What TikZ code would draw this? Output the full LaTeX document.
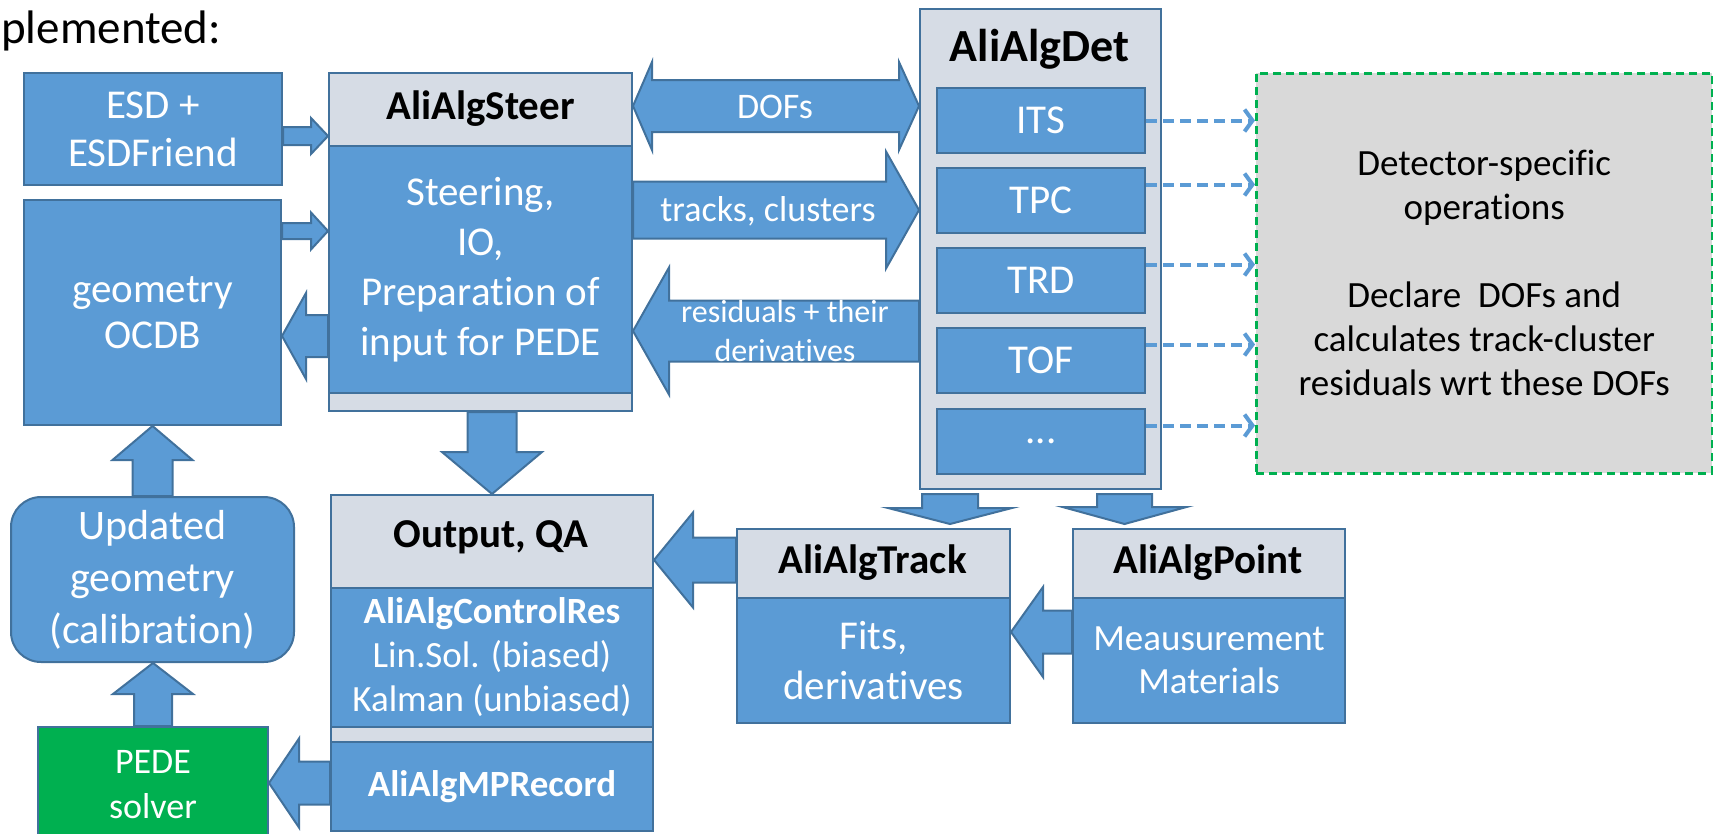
\documentclass[tikz,border=0pt]{standalone}
\usepackage{fontspec}
\setmainfont[Ligatures=NoCommon]{Carlito}
\usetikzlibrary{calc,arrows.meta}
\definecolor{blu}{HTML}{5B9BD5}
\definecolor{bdr}{HTML}{41719C}
\definecolor{hdr}{HTML}{D6DCE5}
\definecolor{gry}{HTML}{D9D9D9}
\definecolor{grn}{HTML}{00B050}
\newcommand\fsz[2]{\fontsize{#1}{#2}\selectfont}
% block arrow: start, tip, shaft half width, head half width, head length
\newcommand\barrow[5]{%
  \coordinate (bh) at ($(#2)!#5!(#1)$);
  \draw[barr] ($(#1)!#3!90:(#2)$) -- ($(bh)!#3!-90:(#1)$) -- ($(bh)!#4!-90:(#1)$) -- (#2)
     -- ($(bh)!#4!90:(#1)$) -- ($(bh)!#3!90:(#1)$) -- ($(#1)!#3!-90:(#2)$) -- cycle;}
\begin{document}
\begin{tikzpicture}[x=1pt,y=-1pt,
  box/.style={draw=bdr,fill=blu,line width=2pt,inner sep=0pt,anchor=north west,text=white,align=center},
  hbox/.style={draw=bdr,fill=hdr,line width=2pt,inner sep=0pt,anchor=north west},
  ttl/.style={text=black,inner sep=0pt},
  sub/.style={box,font=\fsz{41}{48},minimum width=208pt,minimum height=65pt},
  barr/.style={draw=bdr,fill=blu,line width=2pt,line join=miter},
  darr/.style={draw=blu,line width=4pt,dash pattern=on 11pt off 6pt,-{Straight Barb[length=8pt,width=22pt]}},
  lbl/.style={text=white,align=center,inner sep=0pt}
]
\useasboundingbox (0,0) rectangle (1713,833);

\node[anchor=base west,inner sep=0pt,font=\fsz{47}{56}] (head) at (1,43) {plemented:};

% left column
\node[box,font=\fsz{41}{48},minimum width=258pt,minimum height=112pt] (esd) at (23,72) {ESD +\\ESDFriend};
\node[box,font=\fsz{41}{46},minimum width=257pt,minimum height=225pt] (geo) at (23,199) {geometry\\OCDB};
\node[box,font=\fsz{42}{52},minimum width=283pt,minimum height=165pt,rounded corners=30pt] (upd) at (10,496) {Updated\\geometry\\(calibration)};
\node[box,fill=grn,font=\fsz{36}{45},minimum width=230pt,minimum height=116pt] (pede) at (37,726) {PEDE\\solver};

% steer
\node[hbox,minimum width=303pt,minimum height=338pt] (steer) at (328,72) {};
\node[box,font=\fsz{41}{50},minimum width=303pt,minimum height=247pt] (steerB) at (328,145) {Steering,\\IO,\\Preparation of\\input for PEDE};
\node[ttl,font=\fsz{41}{50}\bfseries] (steerT) at ($(steer.north)+(0,37)$) {AliAlgSteer};

% output
\node[hbox,minimum width=322pt,minimum height=336pt] (output) at (330,494) {};
\node[ttl,font=\fsz{41}{50}\bfseries] (outT) at (491,537) {Output, QA};
\node[box,font=\fsz{37}{44},minimum width=322pt,minimum height=139pt] (ctrl) at (330,587) {\bfseries AliAlgControlRes\\Lin.Sol. (biased)\\Kalman (unbiased)};
\node[box,font=\fsz{37}{44}\bfseries,minimum width=322pt,minimum height=89pt] (mprec) at (330,741) {AliAlgMPRecord};

% detector
\node[hbox,minimum width=241pt,minimum height=480pt] (det) at (919,8) {};
\node[ttl,font=\fsz{46}{54}\bfseries] (detT) at (1039.5,49) {AliAlgDet};
\node[sub] (its) at (936,87) {ITS};
\node[sub] (tpc) at (936,167) {TPC};
\node[sub] (trd) at (936,247) {TRD};
\node[sub] (tof) at (936,327) {TOF};
\node[sub] (more) at (936,408) {...};

% track / point
\node[hbox,minimum width=273pt,minimum height=194pt] (track) at (736,528) {};
\node[ttl,font=\fsz{41}{50}\bfseries] (trackT) at (872.5,563) {AliAlgTrack};
\node[box,font=\fsz{41}{50},minimum width=273pt,minimum height=125pt] (trackB) at (736,597) {Fits,\\derivatives};
\node[hbox,minimum width=272pt,minimum height=194pt] (point) at (1072,528) {};
\node[ttl,font=\fsz{41}{50}\bfseries] (pointT) at (1208,563) {AliAlgPoint};
\node[box,font=\fsz{37}{43},minimum width=272pt,minimum height=125pt] (pointB) at (1072,597) {Meausurement\\Materials};

% detector-specific box
\node[draw=grn,fill=gry,line width=2.5pt,dash pattern=on 8pt off 5pt,inner sep=0pt,anchor=north west,
      minimum width=456pt,minimum height=400pt,align=center,font=\fsz{37}{44}] (dbox) at (1255,72)
  {Detector-specific\\operations\\[44pt]Declare\ \ DOFs and\\calculates track-cluster\\residuals wrt these DOFs};

% helper levels
\coordinate (y106) at (0,106);
\coordinate (y136) at (0,136);
\coordinate (y210) at (0,210);
\coordinate (y231) at (0,231);
\coordinate (y331) at (0,331);
\coordinate (y336) at (0,336);
\coordinate (y560) at (0,560);
\coordinate (y632) at (0,632);
\coordinate (y783) at (0,783);
\coordinate (x950) at (950,0);
\coordinate (x1124) at (1124.5,0);

% block arrows
\coordinate (a1s) at (esd.east |- y136); \coordinate (a1e) at (steer.west |- y136);
\barrow{a1s}{a1e}{9pt}{18pt}{17pt}
\coordinate (a2s) at (geo.east |- y231); \coordinate (a2e) at (steer.west |- y231);
\barrow{a2s}{a2e}{8pt}{18.5pt}{17pt}
\coordinate (a3s) at (steer.west |- y336); \coordinate (a3e) at (geo.east |- y336);
\barrow{a3s}{a3e}{21pt}{43pt}{24pt}
\coordinate (a5s) at (steer.east |- y210); \coordinate (a5e) at (det.west |- y210);
\barrow{a5s}{a5e}{28.5pt}{58.5pt}{33pt}
\coordinate (a6s) at (det.west |- y331); \coordinate (a6e) at (steer.east |- y331);
\barrow{a6s}{a6e}{30.5pt}{63.5pt}{36pt}
\coordinate (a7s) at (steer.south -| output.north);
\barrow{a7s}{output.north}{24.5pt}{50pt}{42pt}
\coordinate (a8e) at (geo.south -| upd.north);
\barrow{upd.north}{a8e}{20pt}{40pt}{34pt}
\coordinate (a9e) at (upd.south -| pede.north);
\barrow{pede.north}{a9e}{19pt}{40pt}{31pt}
\coordinate (a10s) at (mprec.west |- y783); \coordinate (a10e) at (pede.east |- y783);
\barrow{a10s}{a10e}{21.5pt}{44.5pt}{30pt}
\coordinate (a11s) at (track.west |- y560); \coordinate (a11e) at (output.east |- y560);
\barrow{a11s}{a11e}{22.5pt}{47.5pt}{39pt}
\coordinate (a12s) at (pointB.west |- y632); \coordinate (a12e) at (trackB.east |- y632);
\barrow{a12s}{a12e}{21.5pt}{45pt}{32pt}
\coordinate (a13s) at ($(det.south -| x950)+(0,4)$); \coordinate (a13e) at ($(track.north -| x950)+(0,-4)$);
\barrow{a13s}{a13e}{28pt}{62pt}{16pt}
\coordinate (a14s) at ($(det.south -| x1124)+(0,4)$); \coordinate (a14e) at ($(point.north -| x1124)+(0,-4)$);
\barrow{a14s}{a14e}{27.5pt}{62pt}{17pt}

% DOFs double arrow
\coordinate (dL) at (steer.east |- y106); \coordinate (dR) at (det.west |- y106);
\draw[barr] (dL) -- ($(dL)+(19,-44)$) -- ($(dL)+(19,-26)$) -- ($(dR)+(-20,-26)$) -- ($(dR)+(-20,-44)$)
  -- (dR) -- ($(dR)+(-20,44)$) -- ($(dR)+(-20,26)$) -- ($(dL)+(19,26)$) -- ($(dL)+(19,44)$) -- cycle;

% arrow labels
\node[lbl,font=\fsz{36}{44}] (lDOF) at (775,107) {DOFs};
\node[lbl,font=\fsz{36}{44}] (lTrk) at (768,211) {tracks, clusters};
\node[lbl,font=\fsz{32}{39}] (lRes) at (785,331) {residuals + their\\derivatives};

% dashed arrows
\coordinate (d1) at (its.east);
\coordinate (d2) at ([yshift=16pt]tpc.east);
\coordinate (d3) at ([yshift=16pt]trd.east);
\coordinate (d4) at ([yshift=16pt]tof.east);
\coordinate (d5) at ([yshift=16pt]more.east);
\foreach \d in {d1,d2,d3,d4,d5}
  \draw[darr] (\d) -- (\d -| dbox.west);
\end{tikzpicture}
\end{document}
